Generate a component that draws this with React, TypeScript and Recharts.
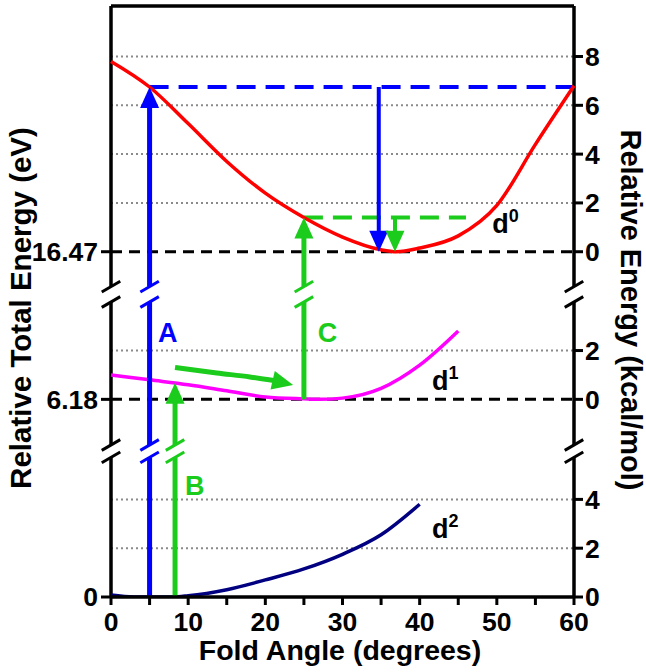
import React from "react";
import { ComposedChart, Line, XAxis, YAxis, ReferenceLine, ReferenceDot } from "recharts";

// fold angle (degrees) vs relative energy (kcal/mol) for each state
const d0Angles = [0, 5, 10, 15, 20, 25, 30, 35, 37, 40, 45, 50, 55, 60];
const d0Energy = [7.8, 6.75, 5.25, 3.7, 2.4, 1.4, 0.6, 0.08, 0, 0.15, 0.65, 1.9, 4.4, 6.8];
const d1Angles = [0, 5, 10, 15, 20, 25, 27, 30, 35, 40, 45];
const d1Energy = [1.0, 0.8, 0.6, 0.35, 0.1, 0.02, 0, 0.05, 0.45, 1.4, 2.8];
const d2Angles = [0, 3, 8, 10, 15, 20, 25, 30, 35, 40];
const d2Energy = [0.08, 0, 0, 0.05, 0.3, 0.7, 1.15, 1.75, 2.55, 3.8];

// left axis: absolute energy (eV) of each panel's zero
const totalEnergyLabels = ["0", "6.18", "16.47"];
// right axis ticks per panel (kcal/mol)
const d2Ticks = [0, 2, 4];
const d1Ticks = [0, 2];
const d0Ticks = [0, 2, 4, 6, 8];
const angleTicks = [0, 5, 10, 15, 20, 25, 30, 35, 40, 45, 50, 55, 60];

// transitions (angle, energy at the arrow tip)
const arrowA = { angle: 5, energy: 6.75 }; // d2 -> d0
const arrowB = { angle: 8.3, energy: 0.68 }; // d2 -> d1
const arrowC = { angle: 25, energy: 1.4 }; // d1 -> d0
const relaxA = { angle: 34.7, end: 60 }; // blue drop to d0 minimum
const relaxC = { angle: 36.8, end: 46 }; // green drop to d0 minimum
const d1PathAngles = [8.3, 13.7, 18, 21.3];
const d1PathEnergy = [1.31, 1.08, 0.92, 0.76];
const d1PathTip = { angle: 23.6, energy: 0.59 };

// layout of the broken axis (virtual units, 1 unit = 1 kcal/mol)
const OFF = { d2: 0, d1: 8.1, d0: 14.15 };
const Y_TOP = 24.22;
const BREAKS: [number, number][] = [[5.72, 6.23], [12.09, 12.72]];

const BLUE = "#0000ff";
const GREEN = "#1ccc1c";
const FONT = "'Liberation Sans', Arial, Helvetica, sans-serif";

const toData = (xs: number[], ys: number[], off: number) => xs.map((x, i) => ({ x, y: ys[i] + off }));
const d0Data = toData(d0Angles, d0Energy, OFF.d0);
const d1Data = toData(d1Angles, d1Energy, OFF.d1);
const d2Data = toData(d2Angles, d2Energy, OFF.d2);
const pathData = toData(d1PathAngles, d1PathEnergy, OFF.d1);

const leftTicks = [OFF.d2, OFF.d1, OFF.d0];
const rightTicks = [
  ...d2Ticks.map((t) => ({ v: t + OFF.d2, t })),
  ...d1Ticks.map((t) => ({ v: t + OFF.d1, t })),
  ...d0Ticks.map((t) => ({ v: t + OFF.d0, t })),
];
const labelFor = (list: { v: number; t: string | number }[], v: number) => {
  const hit = list.find((p) => Math.abs(p.v - v) < 1e-6);
  return hit ? String(hit.t) : "";
};

// vertical segments split at the axis breaks
const splitSegments = (lo: number, hi: number) => {
  const segs: [number, number][] = [];
  let start = lo;
  BREAKS.forEach(([b0, b1]) => {
    if (b0 > start && b1 < hi) {
      segs.push([start, b0]);
      start = b1;
    }
  });
  segs.push([start, hi]);
  return segs;
};
const breaksBetween = (lo: number, hi: number) =>
  BREAKS.filter(([b0, b1]) => b0 > lo && b1 < hi).flatMap(([b0, b1]) => [b0, b1]);

const arrowHead = (color: string, angle: number) => (props: any) => {
  const { cx, cy } = props;
  return (
    <polygon
      points="0,0 -21,-9.5 -21,9.5"
      transform={`translate(${cx},${cy}) rotate(${angle})`}
      fill={color}
    />
  );
};

const textShape = (text: string, color: string, sup?: string) => (props: any) => (
  <text x={props.cx} y={props.cy} fill={color} fontFamily={FONT} fontWeight="bold" fontSize={27}>
    {text}
    {sup && (
      <tspan fontSize={18} dy={-11}>
        {sup}
      </tspan>
    )}
  </text>
);

const LeftTitle = () => (
  <text x={20} y={308} transform="rotate(-90 20 308)" textAnchor="middle" dominantBaseline="central"
    fontFamily={FONT} fontWeight="bold" fontSize={29.5} fill="#000">
    Relative Total Energy (eV)
  </text>
);
const RightTitle = () => (
  <text x={631} y={310} transform="rotate(90 631 310)" textAnchor="middle" dominantBaseline="central"
    fontFamily={FONT} fontWeight="bold" fontSize={29} fill="#000">
    Relative Energy (kcal/mol)
  </text>
);
const BottomTitle = () => (
  <text x={340} y={660} textAnchor="middle" fontFamily={FONT} fontWeight="bold" fontSize={28.5} fill="#000">
    Fold Angle (degrees)
  </text>
);

const tickStyle = { fill: "#000", fontSize: 26.5, fontWeight: "bold", fontFamily: FONT };

export default function App() {
  const breakMark = (x: number, y: number, color: string, key: string) => (
    <ReferenceLine
      key={key}
      yAxisId="left"
      segment={[{ x: x - 1.2, y: y - 0.22 }, { x: x + 1.2, y: y + 0.22 }]}
      stroke={color}
      strokeWidth={3}
      ifOverflow="visible"
    />
  );

  const brokenVertical = (x: number, lo: number, hi: number, color: string, width: number, key: string) => [
    ...splitSegments(lo, hi).map(([a, b], i) => (
      <ReferenceLine
        key={`${key}-s${i}`}
        yAxisId="left"
        segment={[{ x, y: a }, { x, y: b }]}
        stroke={color}
        strokeWidth={width}
        ifOverflow="visible"
      />
    )),
    ...breaksBetween(lo, hi).map((b, i) => breakMark(x, b, color, `${key}-b${i}`)),
  ];

  const gridLines = [
    ...d2Ticks.filter((t) => t > 0).map((t) => t + OFF.d2),
    ...d1Ticks.filter((t) => t > 0).map((t) => t + OFF.d1),
    ...d0Ticks.filter((t) => t > 0).map((t) => t + OFF.d0),
  ];

  return (
    <div style={{ position: "absolute", left: 0, top: 0, width: 646, height: 672, background: "#fff" }}>
      <ComposedChart width={646} height={672} margin={{ top: 6, right: 32, bottom: 45, left: 51 }}>
        <XAxis
          type="number"
          dataKey="x"
          domain={[0, 60]}
          ticks={angleTicks}
          interval={0}
          tickFormatter={(v: number) => (v % 10 === 0 ? String(v) : "")}
          axisLine={{ stroke: "#000", strokeWidth: 3.5 }}
          tickLine={{ stroke: "#000", strokeWidth: 3 }}
          tickSize={8}
          tickMargin={7}
          tick={tickStyle}
          height={30}
          label={<BottomTitle />}
        />
        <YAxis
          yAxisId="left"
          type="number"
          domain={[0, Y_TOP]}
          ticks={leftTicks}
          interval={0}
          tickFormatter={(v: number) => totalEnergyLabels[leftTicks.findIndex((t) => Math.abs(t - v) < 1e-6)] ?? ""}
          axisLine={false}
          tickLine={{ stroke: "#000", strokeWidth: 3 }}
          tickSize={10}
          tickMargin={3}
          tick={tickStyle}
          width={60}
          allowDataOverflow
          label={<LeftTitle />}
        />
        <YAxis
          yAxisId="right"
          orientation="right"
          type="number"
          domain={[0, Y_TOP]}
          ticks={rightTicks.map((p) => p.v)}
          interval={0}
          tickFormatter={(v: number) => labelFor(rightTicks, v)}
          axisLine={false}
          tickLine={{ stroke: "#000", strokeWidth: 3 }}
          tickSize={9}
          tickMargin={2}
          tick={tickStyle}
          width={40}
          allowDataOverflow
          label={<RightTitle />}
        />

        {/* dotted grid at the right-axis ticks */}
        {gridLines.map((y) => (
          <ReferenceLine key={`g${y}`} yAxisId="left" y={y} stroke="#8a8a8a" strokeWidth={2} strokeDasharray="2 3" />
        ))}
        {/* zero lines of the d1 and d0 panels */}
        {[OFF.d1, OFF.d0].map((y) => (
          <ReferenceLine key={`z${y}`} yAxisId="left" y={y} stroke="#000" strokeWidth={3} strokeDasharray="11 7" />
        ))}
        {/* frame: top border and broken side axes */}
        <ReferenceLine yAxisId="left" y={Y_TOP} stroke="#000" strokeWidth={3.5} ifOverflow="visible" />
        {brokenVertical(0, 0, Y_TOP, "#000", 3.5, "axL")}
        {brokenVertical(60, 0, Y_TOP, "#000", 3.5, "axR")}

        {/* dashed levels */}
        <ReferenceLine
          yAxisId="left"
          segment={[{ x: arrowA.angle, y: arrowA.energy + OFF.d0 }, { x: relaxA.end, y: arrowA.energy + OFF.d0 }]}
          stroke={BLUE}
          strokeWidth={4}
          strokeDasharray="19 10"
          ifOverflow="visible"
        />
        <ReferenceLine
          yAxisId="left"
          segment={[{ x: arrowC.angle, y: arrowC.energy + OFF.d0 }, { x: relaxC.end, y: arrowC.energy + OFF.d0 }]}
          stroke={GREEN}
          strokeWidth={4}
          strokeDasharray="19 10"
          ifOverflow="visible"
        />

        <Line yAxisId="left" data={d0Data} dataKey="y" type="monotone" stroke="#ff0000" strokeWidth={3.5} dot={false} isAnimationActive={false} />
        <Line yAxisId="left" data={d1Data} dataKey="y" type="monotone" stroke="#ff00ff" strokeWidth={3.5} dot={false} isAnimationActive={false} />
        <Line yAxisId="left" data={d2Data} dataKey="y" type="monotone" stroke="#000080" strokeWidth={3.5} dot={false} isAnimationActive={false} />
        <Line yAxisId="left" data={pathData} dataKey="y" type="monotone" stroke={GREEN} strokeWidth={5} dot={false} isAnimationActive={false} />

        {/* vertical excitation arrows */}
        {brokenVertical(arrowA.angle, OFF.d2, arrowA.energy + OFF.d0 - 0.6, BLUE, 5, "A")}
        {brokenVertical(arrowB.angle, OFF.d2, arrowB.energy + OFF.d1 - 0.6, GREEN, 5, "B")}
        {brokenVertical(arrowC.angle, OFF.d1, arrowC.energy + OFF.d0 - 0.6, GREEN, 5, "C")}
        {brokenVertical(relaxA.angle, OFF.d0 + 0.6, arrowA.energy + OFF.d0, BLUE, 4, "rA")}
        {brokenVertical(relaxC.angle, OFF.d0 + 0.6, arrowC.energy + OFF.d0, GREEN, 4, "rC")}

        <ReferenceDot yAxisId="left" x={arrowA.angle} y={arrowA.energy + OFF.d0} shape={arrowHead(BLUE, -90)} ifOverflow="visible" />
        <ReferenceDot yAxisId="left" x={arrowB.angle} y={arrowB.energy + OFF.d1} shape={arrowHead(GREEN, -90)} ifOverflow="visible" />
        <ReferenceDot yAxisId="left" x={arrowC.angle} y={arrowC.energy + OFF.d0} shape={arrowHead(GREEN, -90)} ifOverflow="visible" />
        <ReferenceDot yAxisId="left" x={relaxA.angle} y={OFF.d0} shape={arrowHead(BLUE, 90)} ifOverflow="visible" />
        <ReferenceDot yAxisId="left" x={relaxC.angle} y={OFF.d0} shape={arrowHead(GREEN, 90)} ifOverflow="visible" />
        <ReferenceDot yAxisId="left" x={d1PathTip.angle} y={d1PathTip.energy + OFF.d1} shape={arrowHead(GREEN, 13)} ifOverflow="visible" />

        {/* labels */}
        <ReferenceDot yAxisId="left" x={6.1} y={OFF.d1 + 2.36} shape={textShape("A", BLUE)} ifOverflow="visible" />
        <ReferenceDot yAxisId="left" x={9.6} y={OFF.d2 + 4.18} shape={textShape("B", GREEN)} ifOverflow="visible" />
        <ReferenceDot yAxisId="left" x={26.8} y={OFF.d1 + 2.36} shape={textShape("C", GREEN)} ifOverflow="visible" />
        <ReferenceDot yAxisId="left" x={49.4} y={OFF.d0 + 0.78} shape={textShape("d", "#000", "0")} ifOverflow="visible" />
        <ReferenceDot yAxisId="left" x={41.6} y={OFF.d1 + 0.38} shape={textShape("d", "#000", "1")} ifOverflow="visible" />
        <ReferenceDot yAxisId="left" x={41.6} y={OFF.d2 + 2.42} shape={textShape("d", "#000", "2")} ifOverflow="visible" />
      </ComposedChart>
    </div>
  );
}
